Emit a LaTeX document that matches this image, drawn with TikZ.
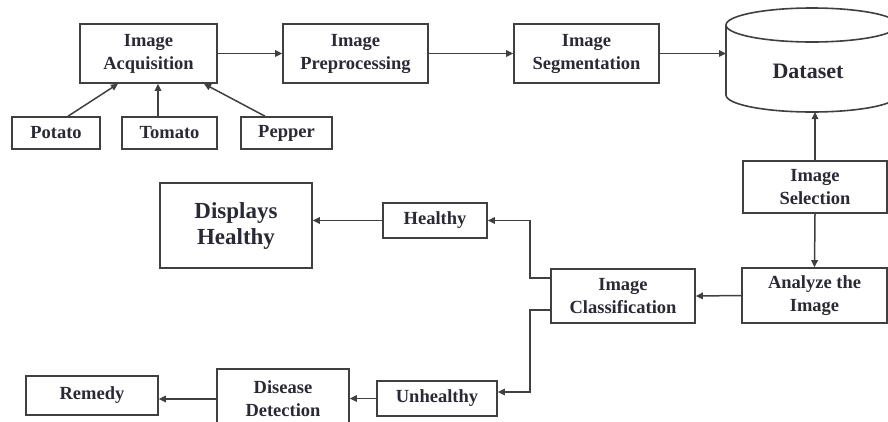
\documentclass[tikz,border=0pt]{standalone}
\usepackage{fontspec}
\setmainfont{Liberation Serif}
\usetikzlibrary{arrows.meta,calc}
\definecolor{txt}{HTML}{2A2A35}
\definecolor{ln}{HTML}{404040}
\begin{document}
\begin{tikzpicture}[x=1pt,y=-1pt,
  box/.style={draw=ln,line width=1.6pt,fill=white,inner sep=0pt,align=center,text=txt,
    font=\fontsize{18.5}{23}\selectfont\bfseries},
  conn/.style={draw=ln,line width=1.5pt,-{Triangle[length=7pt,width=6.5pt]}}]
\useasboundingbox (0,0) rectangle (888,421);
\clip (0,0) rectangle (888,421);
\fill[white] (0,0) rectangle (888,421);
% top row
\node[box,minimum width=137pt,minimum height=59pt] (acq) at (148.5,53.5) {Image\\Acquisition};
\node[box,minimum width=145pt,minimum height=59pt] (pre) at (355.5,53.5) {Image\\Preprocessing};
\node[box,minimum width=145pt,minimum height=59pt] (seg) at (586.5,53.5) {Image\\Segmentation};
\node[box,minimum width=88pt,minimum height=32pt] (potato) at (56,133) {Potato};
\node[box,minimum width=95pt,minimum height=32pt] (tomato) at (169.5,133) {Tomato};
\node[box,minimum width=91pt,minimum height=32pt] (pepper) at (286.5,133) {Pepper};
% dataset cylinder
\draw[ln,line width=1.6pt,fill=white] (726,25) -- (726,95) arc[start angle=180,end angle=0,x radius=86,y radius=17] -- (898,25);
\draw[ln,line width=1.6pt] (812,25) ellipse[x radius=86,y radius=17];
\node[text=txt,font=\fontsize{22}{26}\selectfont\bfseries] (ds) at (808,71) {Dataset};
\coordinate (dsleft) at (726,53.5);
\coordinate (dsbot) at (815,112);
% right column
\node[box,minimum width=144pt,minimum height=52pt] (sel) at (815,187) {Image\\Selection};
\node[box,minimum width=145pt,minimum height=55pt] (ana) at (814.5,295.5) {Analyze the\\Image};
\node[box,minimum width=144pt,minimum height=54pt] (cls) at (623,296) {Image\\Classification};
\node[box,minimum width=104pt,minimum height=35pt] (healthy) at (435,220.5) {Healthy};
\node[box,minimum width=152pt,minimum height=85pt,font=\fontsize{23}{26}\selectfont\bfseries] (disp) at (236,225.5) {Displays\\Healthy};
\node[box,minimum width=120pt,minimum height=35pt] (unhealthy) at (437,398.5) {Unhealthy};
\node[box,minimum width=132pt,minimum height=60pt] (dd) at (283,399) {Disease\\Detection};
\node[box,minimum width=132pt,minimum height=39pt] (remedy) at (92,395.5) {Remedy};
% connectors
\draw[conn] (acq.east) -- (pre.west);
\draw[conn] (pre.east) -- (seg.west);
\draw[conn] (seg.east) -- (dsleft);
\draw[conn] ([xshift=12pt]potato.north) -- ([xshift=-30.5pt]acq.south);
\draw[conn] ([xshift=-11.5pt]tomato.north) -- ([xshift=-11.5pt]tomato.north |- acq.south);
\draw[conn] ([xshift=-21.5pt]pepper.north) -- ([xshift=55.5pt]acq.south);
\draw[conn] (sel.north) -- (dsbot);
\draw[conn] (sel.south) -- (ana.north);
\draw[conn] (ana.west) -- (cls.east);
\draw[conn] ([yshift=18pt]cls.west) -- ++(-20,0) |- (healthy.east);
\draw[conn] ([yshift=-14pt]cls.west) -- ++(-20,0) |- ([yshift=6.5pt]unhealthy.east);
\draw[conn] (healthy.west) -- (healthy.west -| disp.east);
\draw[conn] (unhealthy.west) -- (unhealthy.west -| dd.east);
\draw[conn] (dd.west) -- (dd.west -| remedy.east);
\end{tikzpicture}
\end{document}
